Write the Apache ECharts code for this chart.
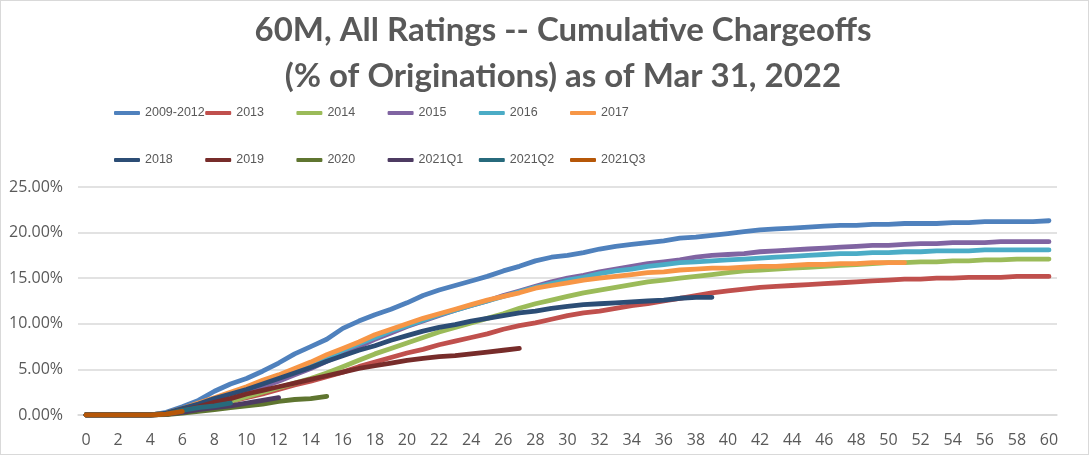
<!DOCTYPE html>
<html>
<head>
<meta charset="utf-8">
<script src="https://cdn.jsdelivr.net/npm/echarts@6/dist/echarts.min.js"></script>
<style>
html,body{margin:0;padding:0;background:#fff;}
#chart{width:1089px;height:455px;box-sizing:border-box;border:1px solid #d9d9d9;}
</style>
</head>
<body>
<div id="chart"></div>
<script>
const months = Array.from({length: 61}, (_, i) => String(i));
const yTicks = [0, 5, 10, 15, 20, 25];
const seriesNames = ['2009-2012','2013','2014','2015','2016','2017','2018','2019','2020','2021Q1','2021Q2','2021Q3'];
const seriesColors = ['#4F81BD','#C0504D','#9BBB59','#8064A2','#4BACC6','#F79646','#2C4D75','#772C2A','#5F7530','#4D3B62','#276A7C','#B65708'];

const v2009_2012 = [0,0,0,0,0,0.3,0.9,1.6,2.6,3.4,4.0,4.8,5.7,6.7,7.5,8.3,9.5,10.3,11.0,11.6,12.3,13.1,13.7,14.2,14.7,15.2,15.8,16.3,16.9,17.3,17.5,17.8,18.2,18.5,18.7,18.9,19.1,19.4,19.5,19.7,19.9,20.1,20.3,20.4,20.5,20.6,20.7,20.8,20.8,20.9,20.9,21.0,21.0,21.0,21.1,21.1,21.2,21.2,21.2,21.2,21.3];
const v2013 = [0,0,0,0,0,0.1,0.3,0.7,1.1,1.5,1.9,2.3,2.8,3.3,3.7,4.2,4.7,5.3,5.8,6.3,6.8,7.2,7.7,8.1,8.5,8.9,9.4,9.8,10.1,10.5,10.9,11.2,11.4,11.7,12.0,12.2,12.5,12.8,13.1,13.4,13.6,13.8,14.0,14.1,14.2,14.3,14.4,14.5,14.6,14.7,14.8,14.9,14.9,15.0,15.0,15.1,15.1,15.1,15.2,15.2,15.2];
const v2014 = [0,0,0,0,0,0.1,0.3,0.6,1.0,1.5,2.0,2.5,3.0,3.5,4.0,4.6,5.3,6.0,6.7,7.3,7.9,8.5,9.1,9.6,10.1,10.6,11.1,11.7,12.2,12.6,13.0,13.4,13.7,14.0,14.3,14.6,14.8,15.0,15.2,15.4,15.6,15.8,15.9,16.0,16.1,16.2,16.3,16.4,16.5,16.6,16.7,16.7,16.8,16.8,16.9,16.9,17.0,17.0,17.1,17.1,17.1];
const v2015 = [0,0,0,0,0,0.1,0.4,0.9,1.4,2.0,2.5,3.1,3.7,4.4,5.1,5.9,6.7,7.5,8.3,9.0,9.7,10.3,10.9,11.5,12.0,12.5,13.1,13.6,14.1,14.6,15.0,15.3,15.7,16.0,16.3,16.6,16.8,17.0,17.3,17.5,17.6,17.7,17.9,18.0,18.1,18.2,18.3,18.4,18.5,18.6,18.6,18.7,18.8,18.8,18.9,18.9,18.9,19.0,19.0,19.0,19.0];
const v2016 = [0,0,0,0,0,0.2,0.6,1.1,1.7,2.3,2.9,3.5,4.1,4.8,5.5,6.3,7.1,7.8,8.5,9.2,9.8,10.4,11.0,11.5,12.0,12.5,13.0,13.5,14.0,14.4,14.8,15.1,15.5,15.8,16.0,16.3,16.5,16.7,16.8,16.9,17.0,17.1,17.2,17.3,17.4,17.5,17.6,17.7,17.7,17.8,17.8,17.9,17.9,18.0,18.0,18.0,18.1,18.1,18.1,18.1,18.1];
const v2017 = [0,0,0,0,0,0.2,0.7,1.3,1.9,2.5,3.1,3.8,4.4,5.1,5.8,6.6,7.3,8.0,8.8,9.4,10.0,10.6,11.1,11.6,12.1,12.6,13.0,13.4,13.9,14.2,14.5,14.8,15.0,15.2,15.4,15.6,15.7,15.9,16.0,16.1,16.1,16.2,16.3,16.3,16.4,16.5,16.5,16.6,16.6,16.7,16.7,16.7];
const v2018 = [0,0,0,0,0,0.2,0.7,1.2,1.8,2.3,2.8,3.4,4.0,4.6,5.2,5.9,6.5,7.1,7.6,8.2,8.7,9.2,9.6,9.9,10.3,10.6,10.9,11.2,11.4,11.7,11.9,12.1,12.2,12.3,12.4,12.5,12.6,12.8,12.9,12.9];
const v2019 = [0,0,0,0,0,0.1,0.5,0.9,1.4,1.8,2.3,2.7,3.1,3.5,3.9,4.3,4.7,5.1,5.4,5.7,6.0,6.2,6.4,6.5,6.7,6.9,7.1,7.3];
const v2020 = [0,0,0,0,0,0.05,0.2,0.4,0.6,0.8,1.0,1.2,1.5,1.7,1.8,2.05];
const v2021Q1 = [0,0,0,0,0,0.1,0.3,0.6,0.8,1.0,1.3,1.6,1.9];
const v2021Q2 = [0,0,0,0,0,0.1,0.5,0.8,1.0,1.3];
const v2021Q3 = [0,0,0,0,0,0.1,0.4];

const seriesValues = [v2009_2012,v2013,v2014,v2015,v2016,v2017,v2018,v2019,v2020,v2021Q1,v2021Q2,v2021Q3];

const grey = '#595959';
const chart = echarts.init(document.getElementById('chart'), null, {renderer: 'canvas'});

const legends = seriesNames.map((name, i) => ({
  data: [name],
  left: 108 + 91.2 * (i % 6),
  top: i < 6 ? 98 : 145,
  orient: 'horizontal',
  itemWidth: 26,
  itemHeight: 4,
  itemGap: 0,
  icon: 'roundRect',
  textStyle: {color: grey, fontSize: 12.5, fontFamily: "'Liberation Sans', sans-serif", lineHeight: 18}
}));

const option = {
  backgroundColor: '#fff',
  animation: false,
  title: {
    text: '60M, All Ratings -- Cumulative Chargeoffs\n(% of Originations) as of Mar 31, 2022',
    left: 557,
    top: 1,
    textAlign: 'center',
    textStyle: {color: grey, fontSize: 33, fontWeight: 'bold', fontFamily: "Lato, 'Open Sans', sans-serif", lineHeight: 46}
  },
  legend: legends,
  grid: {left: 77, right: 31, top: 186, bottom: 39, containLabel: false},
  xAxis: {
    type: 'category',
    data: months,
    boundaryGap: true,
    axisLine: {show: true, lineStyle: {color: '#d9d9d9', width: 1.5}},
    axisTick: {show: false},
    axisLabel: {interval: 1, color: grey, fontSize: 16, margin: 17, fontFamily: "'Open Sans', sans-serif"}
  },
  yAxis: {
    type: 'value',
    min: yTicks[0],
    max: yTicks[yTicks.length - 1],
    interval: yTicks[1] - yTicks[0],
    axisLine: {show: false},
    axisTick: {show: false},
    splitLine: {lineStyle: {color: '#d9d9d9', width: 1.5}},
    axisLabel: {color: grey, fontSize: 16, margin: 15, fontFamily: "'Open Sans', sans-serif", formatter: v => v.toFixed(2) + '%'}
  },
  series: seriesNames.map((name, i) => ({
    name: name,
    type: 'line',
    data: seriesValues[i],
    showSymbol: false,
    symbol: 'none',
    color: seriesColors[i],
    lineStyle: {width: 4.8, color: seriesColors[i], cap: 'round', join: 'round'},
    emphasis: {disabled: true}
  }))
};
chart.setOption(option);
</script>
</body>
</html>
